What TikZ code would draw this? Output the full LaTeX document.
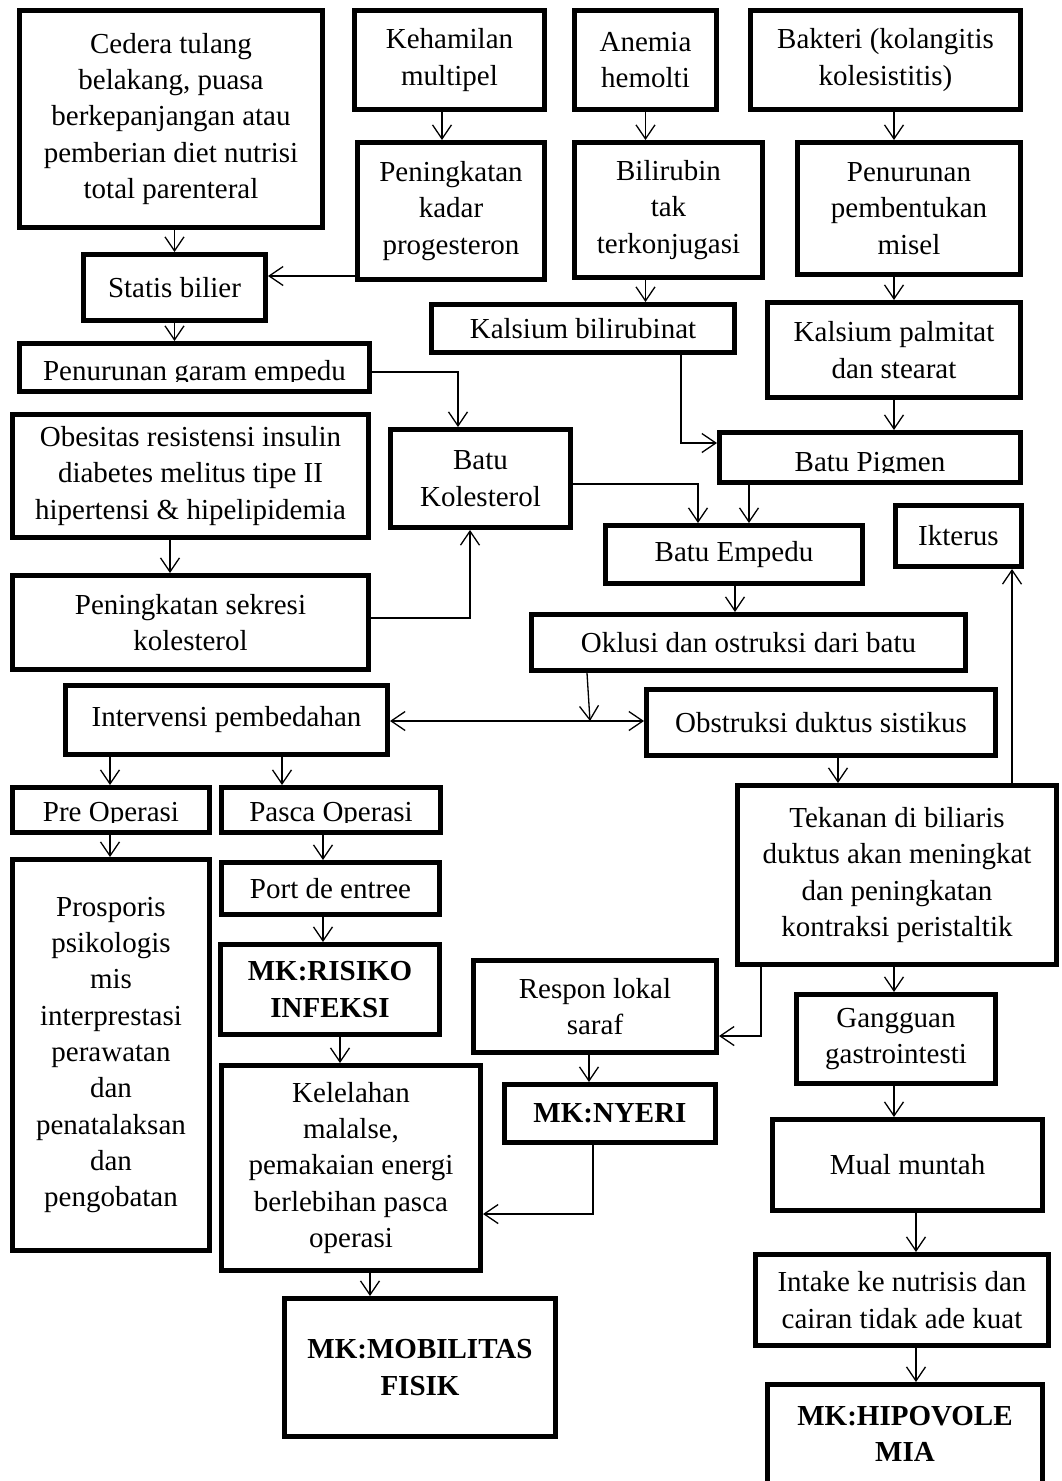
\documentclass[tikz,border=0pt]{standalone}
\usepackage{fontspec}
\setmainfont{Liberation Serif}
\usetikzlibrary{arrows.meta,calc}
\newcommand\fs{\fontsize{29}{36.3}\selectfont}
\tikzset{
 bx/.style={draw, line width=5pt, inner sep=0pt, align=center, font=\fs},
 mk/.style={font=\fs\bfseries},
 arr/.style={line width=1.3pt, -{Straight Barb[length=14pt,width=19pt]}},
 arrboth/.style={line width=1.3pt, {Straight Barb[length=14pt,width=19pt]}-{Straight Barb[length=14pt,width=19pt]}},
 cliptext/.style={path picture={
   \clip ([yshift=10pt]path picture bounding box.south west) rectangle (path picture bounding box.north east);
   \node[font=\fs, inner sep=0pt, anchor=base] at ([yshift=11pt]path picture bounding box.south) {#1};}},
}
\newcommand\mybox[7][]{\node[bx,#1, minimum width={#5-#3-5}, minimum height={#6-#4-5}] (#2) at ({(#3+#5)/2},{(#4+#6)/2}) {#7};}
\begin{document}
\begin{tikzpicture}[x=1pt,y=-1pt]
\fill[white] (0,0) rectangle (1061,1481);
\useasboundingbox (0,0) rectangle (1061,1481);
% boxes
\mybox{cedera}{17}{8}{325}{230}{Cedera tulang\\belakang, puasa\\berkepanjangan atau\\pemberian diet nutrisi\\total parenteral}
\mybox{hamil}{352}{8}{547}{112}{Kehamilan\\multipel}
\mybox{anemia}{572}{8}{719}{112}{Anemia\\hemolti}
\mybox{bakteri}{748}{8}{1023}{112}{Bakteri (kolangitis\\kolesistitis)}
\mybox{statis}{81}{252}{268}{323}{Statis bilier}
\mybox{progest}{355}{140}{547}{282}{Peningkatan\\kadar\\progesteron}
\mybox{bilirubin}{572}{140}{765}{280}{Bilirubin\\tak\\terkonjugasi}
\mybox{misel}{795}{140}{1023}{277}{Penurunan\\pembentukan\\misel}
\mybox[cliptext={Penurunan garam empedu}]{garam}{17}{341}{372}{394}{}
\mybox{kbil}{429}{302}{737}{355}{Kalsium bilirubinat}
\mybox{kpalm}{765}{300}{1023}{400}{Kalsium palmitat\\dan stearat}
\mybox{obes}{10}{412}{371}{540}{Obesitas resistensi insulin\\diabetes melitus tipe II\\hipertensi \& hipelipidemia}
\mybox{batukol}{388}{427}{573}{530}{Batu\\Kolesterol}
\mybox[cliptext={Batu Pigmen}]{pigmen}{717}{430}{1023}{485}{}
\mybox{empedu}{603}{523}{865}{586}{Batu Empedu}
\mybox{ikterus}{893}{503}{1024}{569}{Ikterus}
\mybox{sekresi}{10}{573}{371}{672}{Peningkatan sekresi\\kolesterol}
\mybox{oklusi}{529}{612}{968}{673}{Oklusi dan ostruksi dari batu}
\mybox{interv}{63}{683}{390}{757}{Intervensi pembedahan}
\mybox{obstr}{644}{687}{998}{758}{Obstruksi duktus sistikus}
\mybox[cliptext={Pre Operasi}]{pre}{10}{785}{212}{835}{}
\mybox[cliptext={Pasca Operasi}]{pasca}{219}{785}{443}{835}{}
\mybox{tekanan}{735}{783}{1059}{967}{Tekanan di biliaris\\duktus akan meningkat\\dan peningkatan\\kontraksi peristaltik}
\mybox{port}{219}{860}{442}{917}{Port de entree}
\mybox{prosp}{10}{857}{212}{1253}{Prosporis\\psikologis\\mis\\interprestasi\\perawatan\\dan\\penatalaksan\\dan\\pengobatan}
\mybox[mk]{risiko}{218}{942}{442}{1037}{MK:RISIKO\\INFEKSI}
\mybox{respon}{471}{958}{719}{1055}{Respon lokal\\saraf}
\mybox{gangguan}{794}{992}{998}{1086}{Gangguan\\gastrointesti}
\mybox[mk]{nyeri}{502}{1082}{718}{1145}{MK:NYERI}
\mybox{lelah}{219}{1063}{483}{1273}{Kelelahan\\malalse,\\pemakaian energi\\berlebihan pasca\\operasi}
\mybox{mual}{770}{1117}{1045}{1213}{Mual muntah}
\mybox[mk]{mobil}{282}{1296}{558}{1439}{MK:MOBILITAS\\FISIK}
\mybox{intake}{753}{1252}{1051}{1348}{Intake ke nutrisis dan\\cairan tidak ade kuat}
\mybox[mk]{hipo}{765}{1382}{1045}{1486}{MK:HIPOVOLE\\MIA}
% connectors
\draw[arr] (statis.north |- cedera.south) -- (statis.north);
\draw[arr] (progest.west |- 0,276) -- (statis.east |- 0,276);
\draw[arr] (statis.south) -- (statis.south |- garam.north);
\draw[arr] (garam.east |- 0,372) -| (batukol.north -| 458,0);
\draw[arr] (hamil.south -| 442,0) -- (progest.north -| 442,0);
\draw[arr] (anemia.south) -- (anemia.south |- bilirubin.north);
\draw[arr] (bilirubin.south -| anemia.south) -- (kbil.north -| anemia.south);
\draw[arr] (bakteri.south -| 894,0) -- (misel.north -| 894,0);
\draw[arr] (misel.south -| 894,0) -- (kpalm.north -| 894,0);
\draw[arr] (kpalm.south -| 894,0) -- (pigmen.north -| 894,0);
\draw[arr] (kbil.south -| 681,0) |- (pigmen.west |- 0,443);
\draw[arr] (batukol.east |- 0,484) -| (empedu.north -| 698,0);
\draw[arr] (pigmen.south -| 749,0) -- (empedu.north -| 749,0);
\draw[arr] (obes.south -| 170,0) -- (sekresi.north -| 170,0);
\draw[arr] (sekresi.east |- 0,618) -| (batukol.south -| 470,0);
\draw[arr] (empedu.south -| 735,0) -- (oklusi.north -| 735,0);
\draw[arrboth] (interv.east |- 0,721) -- (obstr.west |- 0,721);
\coordinate (join) at (590,721);
\draw[arr] (oklusi.south -| 587,0) -- (join);
\draw[arr] (obstr.south -| 838,0) -- (tekanan.north -| 838,0);
\draw[arr] (tekanan.north -| 1012,0) -- (ikterus.south -| 1012,0);
\draw[arr] (interv.south -| 110,0) -- (pre.north -| 110,0);
\draw[arr] (interv.south -| 282,0) -- (pasca.north -| 282,0);
\draw[arr] (pre.south -| 110,0) -- (prosp.north -| 110,0);
\draw[arr] (pasca.south -| 323,0) -- (port.north -| 323,0);
\draw[arr] (port.south -| 323,0) -- (risiko.north -| 323,0);
\draw[arr] (risiko.south -| 340,0) -- (lelah.north -| 340,0);
\draw[arr] (lelah.south -| 370,0) -- (mobil.north -| 370,0);
\draw[arr] (tekanan.south -| 761,0) |- (respon.east |- 0,1036);
\draw[arr] (tekanan.south -| 894,0) -- (gangguan.north -| 894,0);
\draw[arr] (respon.south -| 589,0) -- (nyeri.north -| 589,0);
\draw[arr] (nyeri.south -| 593,0) |- (lelah.east |- 0,1214);
\draw[arr] (gangguan.south -| 894,0) -- (mual.north -| 894,0);
\draw[arr] (mual.south -| 916,0) -- (intake.north -| 916,0);
\draw[arr] (intake.south -| 916,0) -- (hipo.north -| 916,0);
\end{tikzpicture}
\end{document}
